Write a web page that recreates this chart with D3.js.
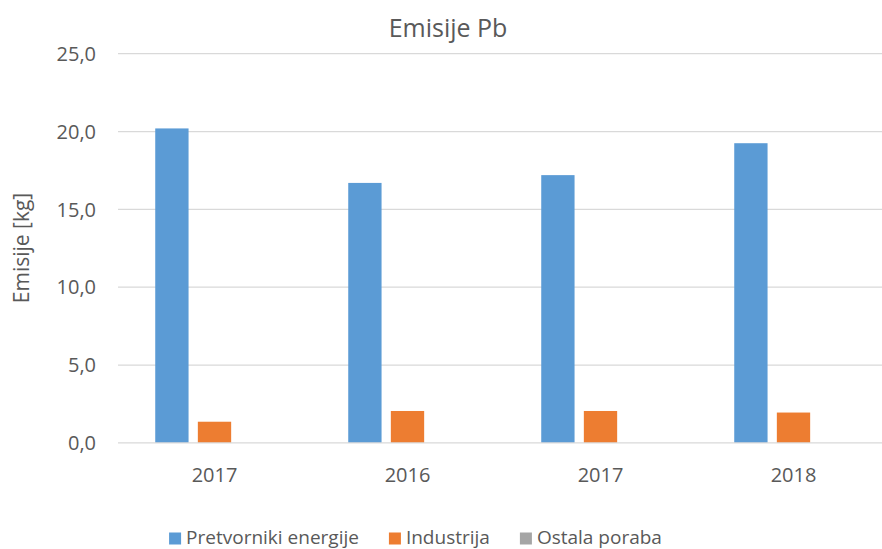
<!DOCTYPE html>
<html>
<head>
<meta charset="utf-8">
<script src="https://cdn.jsdelivr.net/npm/d3@7"></script>
<style>
  html, body { margin: 0; padding: 0; background: #fff; }
  svg { display: block; font-family: "Open Sans", "Noto Sans", sans-serif; }
</style>
</head>
<body>
<svg id="chart" width="882" height="549"></svg>
<script>
const title = "Emisije Pb";
const yTitle = "Emisije [kg]";
const categories = ["2017", "2016", "2017", "2018"];
const seriesNames = ["Pretvorniki energije", "Industrija", "Ostala poraba"];
const seriesColors = ["#5B9BD5", "#ED7D31", "#A5A5A5"];
const pretvorniki = [20.2, 16.7, 17.2, 19.25];
const industrija = [1.36, 2.05, 2.05, 1.95];
const ostala = [0, 0, 0, 0];
const yTicks = [0, 5, 10, 15, 20, 25];

const seriesValues = [pretvorniki, industrija, ostala];

const svg = d3.select("#chart");
const W = 882, H = 549;
const pLeft = 118, pRight = 890, pTop = 53.7, pBottom = 442.9;

const idx = categories.map((d, i) => i);
const x0 = d3.scaleBand().domain(idx).range([pLeft, pRight]).paddingInner(0).paddingOuter(0);
const x1 = d3.scaleBand().domain(d3.range(seriesNames.length)).range([0, x0.bandwidth()])
  .paddingInner(0.218).paddingOuter(0.874);
const y = d3.scaleLinear().domain([0, 25]).range([pBottom, pTop]);

const fmt = v => d3.format(".1f")(v).replace(".", ",");

// gridlines
svg.append("g").selectAll("line").data(yTicks.filter(t => t > 0)).join("line")
  .attr("x1", pLeft).attr("x2", W)
  .attr("y1", d => y(d)).attr("y2", d => y(d))
  .attr("stroke", "#D9D9D9").attr("stroke-width", 1.3);

// y tick labels
svg.append("g").selectAll("text").data(yTicks).join("text")
  .attr("x", 96).attr("y", d => y(d)).attr("dy", "0.36em")
  .attr("text-anchor", "end").attr("font-size", 20).attr("fill", "#595959")
  .text(d => fmt(d));

// bars
const groups = svg.append("g").selectAll("g").data(idx).join("g")
  .attr("transform", i => `translate(${x0(i)},0)`);
groups.selectAll("rect").data(i => seriesValues.map((s, k) => ({k, v: s[i]}))).join("rect")
  .attr("x", d => x1(d.k)).attr("width", x1.bandwidth())
  .attr("y", d => y(d.v)).attr("height", d => y(0) - y(d.v))
  .attr("fill", d => seriesColors[d.k]);

// x axis line
svg.append("line").attr("x1", pLeft).attr("x2", W).attr("y1", y(0)).attr("y2", y(0))
  .attr("stroke", "#D9D9D9").attr("stroke-width", 1.3);

// category labels
svg.append("g").selectAll("text").data(idx).join("text")
  .attr("x", i => x0(i) + x0.bandwidth() / 2).attr("y", 482)
  .attr("text-anchor", "middle").attr("font-size", 20).attr("fill", "#595959")
  .text(i => categories[i]);

// title
svg.append("text").attr("x", 448).attr("y", 36.5).attr("text-anchor", "middle")
  .attr("font-size", 25).attr("fill", "#595959").text(title);

// y title
svg.append("text").attr("transform", "translate(29,248) rotate(-90)")
  .attr("text-anchor", "middle").attr("font-size", 21).attr("fill", "#595959").text(yTitle);

// legend
const leg = svg.append("g");
const items = leg.selectAll("g").data(seriesNames).join("g");
items.append("rect").attr("width", 12).attr("height", 12).attr("y", 532.5)
  .attr("fill", (d, i) => seriesColors[i]);
items.append("text").attr("x", 17).attr("y", 543.5).attr("font-size", 19).attr("fill", "#595959")
  .text(d => d);
let xpos = 0;
const positions = [];
items.each(function (d, i) {
  const w = d3.select(this).select("text").node().getComputedTextLength();
  positions.push(xpos);
  xpos += 17 + w + 30;
});
const total = xpos - 30;
const start = 415.5 - total / 2;
items.attr("transform", (d, i) => `translate(${start + positions[i]},0)`);
</script>
</body>
</html>
